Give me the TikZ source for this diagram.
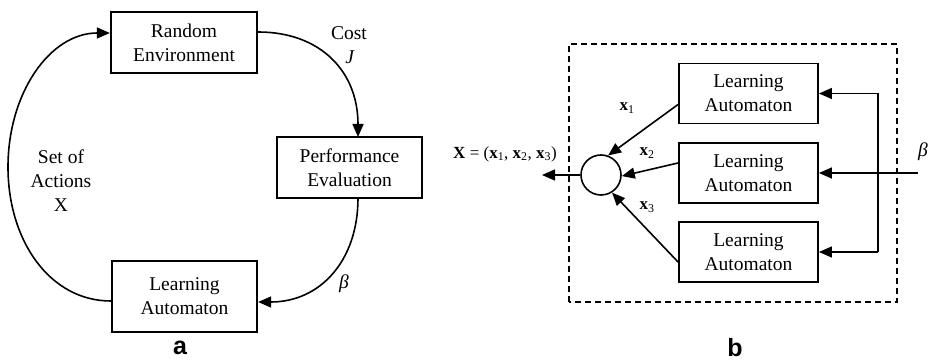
\documentclass[tikz,border=0pt]{standalone}
\usepackage{fontspec}
\setmainfont{Liberation Serif}
\newfontfamily\labfont{Liberation Sans}
\usetikzlibrary{arrows.meta}
\begin{document}
\begin{tikzpicture}[x=1pt,y=1pt,
  every node/.style={font=\fontsize{19.5}{24}\selectfont, align=center},
  boxa/.style={draw, line width=2.3pt, inner sep=0pt},
  boxb/.style={draw, line width=1.9pt, inner sep=0pt, minimum width=139pt, minimum height=60pt},
  conn/.style={line width=1.6pt, -{Triangle[length=13pt,width=11pt]}},
  plain/.style={line width=1.6pt},
  lab/.style={font=\fontsize{19.5}{24}\selectfont},
  sm/.style={font=\fontsize{17}{20}\selectfont},
  panel/.style={font=\labfont\bfseries\fontsize{25}{25}\selectfont}]
\useasboundingbox (0,0) rectangle (935,361);
% ---------- panel a ----------
\node[boxa, minimum width=146pt, minimum height=61pt] (re) at (184,318.5) {Random\\Environment};
\node[boxa, minimum width=145pt, minimum height=61pt] (pe) at (349.5,193.5) {Performance\\Evaluation};
\node[boxa, minimum width=145pt, minimum height=71pt] (laa) at (184.5,64.5) {Learning\\Automaton};
\coordinate (reE) at (re.east |- 0,329);
\coordinate (peN) at (358,224);
\coordinate (peS) at (358,163);
\coordinate (laE) at (laa.east |- 0,59);
\coordinate (laW) at (laa.west |- 0,60);
\coordinate (reW) at (re.west |- 0,328);
\coordinate (lft) at (8,194);
\draw[conn] (reE) .. controls (320,329) and (358,290) .. (peN);
\draw[conn] (peS) .. controls (358,100) and (320,59) .. (laE);
\draw[conn] (laW) .. controls (50,60) and (8,120) .. (lft) .. controls (8,268) and (50,328) .. (reW);
\node[lab] (cost) at (349,328) {Cost};
\node[lab] (jl) at (350,304) {\textit{J}};
\node[lab] (beta1) at (344,77) {\textit{β}};
\node[lab] (soa) at (61,180) {Set of\\Actions\\X};
\node[panel] (pa) at (180,13) {a};
% ---------- panel b ----------
\draw[line width=1.7pt, dash pattern=on 6pt off 4pt] (569,59) rectangle (897,317);
\node[boxb] (b1) at (748.5,267.5) {Learning\\Automaton};
\node[boxb] (b2) at (748.5,188) {Learning\\Automaton};
\node[boxb] (b3) at (748.5,109) {Learning\\Automaton};
\node[circle, draw, line width=1.6pt, minimum size=40pt, inner sep=0pt] (c) at (601,186) {};
\coordinate (out) at (542,186);
\coordinate (fb1) at (878,267.5);
\coordinate (fb3) at (878,109);
\coordinate (bin) at (918,188);
\draw[conn] (c.west) -- (out);
\draw[plain] (fb1) -- (fb3);
\draw[conn] (fb1) -- (b1.east);
\draw[conn] (fb3) -- (b3.east);
\draw[conn] (bin) -- (b2.east);
\draw[conn] ([yshift=-11pt]b1.west) -- (c.70);
\draw[conn] ([yshift=10pt]b2.west) -- (c.-3);
\draw[conn] ([yshift=-10pt]b3.west) -- (c.-58);
\node[lab] (beta2) at (923,209) {\textit{β}};
\node[sm] (xl) at (505,207) {\textbf{X} = (\textbf{x}\textsubscript{1}, \textbf{x}\textsubscript{2}, \textbf{x}\textsubscript{3})};
\node[sm] (x1) at (627,253) {\textbf{x}\textsubscript{1}};
\node[sm] (x2) at (647,208) {\textbf{x}\textsubscript{2}};
\node[sm] (x3) at (647,154) {\textbf{x}\textsubscript{3}};
\node[panel] (pb) at (735,13) {b};
\end{tikzpicture}
\end{document}
